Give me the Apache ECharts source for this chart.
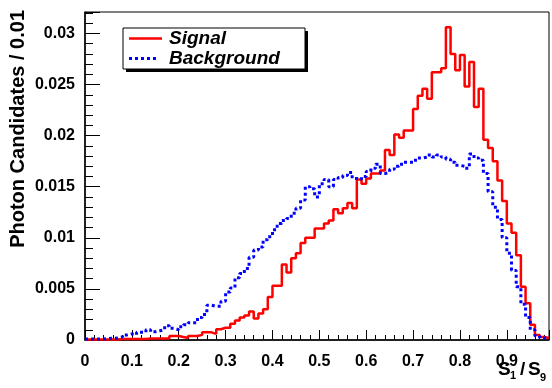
<html>
<head>
    <title>S1/S9 photon candidates</title>
    <style>
        * { margin: 0; padding: 0; }
        #chart-container { width: 552px; height: 388px; background: #fff; }
    </style>
</head>
<body>
<div id="chart-container"></div>
<script src="https://cdn.jsdelivr.net/npm/echarts@6/dist/echarts.min.js"></script>
<script>
    // histogram bins of width 0.01 starting at 0
    const binWidth = 0.01;
    const xMin = 0;
    const xMax = 0.99;
    const yMax = 0.0321;

    const signal = [
        0.00005, 0.00005, 0.00005, 0.00005, 0.00005, 0.00005, 0.00005, 0.0001, 0.0001, 0.0001,
        0.0001, 0.0001, 0.0001, 0.00015, 0.00015, 0.00015, 0.00015, 0.00015, 0.0004, 0.0004,
        0.0003, 0.0002, 0.0004, 0.0004, 0.0005, 0.00075, 0.00075, 0.0006, 0.00105, 0.0012,
        0.0012, 0.0016, 0.0019, 0.0022, 0.0024, 0.0028, 0.0021, 0.0026, 0.003, 0.0042,
        0.0053, 0.0053, 0.0074, 0.0066, 0.008, 0.0085, 0.0095, 0.01, 0.01, 0.0109,
        0.0109, 0.0114, 0.0117, 0.0128, 0.0124, 0.0129, 0.0134, 0.0129, 0.0157, 0.0153,
        0.0158, 0.0163, 0.0163, 0.0166, 0.0186, 0.0181, 0.0201, 0.0198, 0.0205, 0.0205,
        0.0226, 0.0239, 0.0246, 0.0236, 0.0262, 0.0262, 0.0266, 0.0306, 0.028, 0.0264,
        0.0279, 0.0248, 0.0272, 0.0228, 0.0246, 0.0196, 0.0188, 0.0175, 0.0156, 0.0136,
        0.0114, 0.0105, 0.0083, 0.0052, 0.0036, 0.0015, 0.0005, 0.0003, 0.0002
    ];

    const background = [
        0.0001, 0.0001, 0.0001, 0.0001, 0.00015, 0.00017, 0.0002, 0.0003, 0.0005, 0.0006,
        0.0005, 0.00075, 0.00075, 0.001, 0.0008, 0.0009, 0.001, 0.0014, 0.00115, 0.001,
        0.0013, 0.0015, 0.0017, 0.0017, 0.0022, 0.0025, 0.0034, 0.0033, 0.0033, 0.0038,
        0.0047, 0.0051, 0.0061, 0.0065, 0.007, 0.0081, 0.0088, 0.0091, 0.0098, 0.0101,
        0.0108, 0.0114, 0.0117, 0.0119, 0.0124, 0.0129, 0.0137, 0.015, 0.0148, 0.014,
        0.0153, 0.0157, 0.015, 0.0157, 0.0159, 0.0161, 0.0164, 0.0158, 0.0157, 0.016,
        0.0165, 0.0168, 0.0172, 0.0163, 0.0164, 0.0167, 0.017, 0.0172, 0.0174, 0.0174,
        0.0176, 0.0178, 0.0179, 0.0181, 0.0179, 0.0181, 0.0179, 0.0177, 0.0174, 0.0171,
        0.017, 0.0168, 0.0182, 0.0178, 0.0176, 0.0163, 0.0145, 0.013, 0.0118, 0.01,
        0.0085, 0.0068, 0.0052, 0.0035, 0.0022, 0.001, 0.0004, 0.0002, 0.0001
    ];

    const seriesNames = ['Signal', 'Background'];
    const seriesColors = ['#ff0000', '#0000ff'];

    // step line points: left edge of each bin, plus the right edge of the last one
    function toSteps(values) {
        const pts = values.map((v, i) => [+(xMin + i * binWidth).toFixed(2), v]);
        pts.push([+(xMin + values.length * binWidth).toFixed(2), values[values.length - 1]]);
        return pts;
    }

    const font = '"Liberation Sans", Arial, sans-serif';

    function label(text, x, y, size, italic) {
        return {
            type: 'text', x: x, y: y,
            style: {
                text: text, font: (italic ? 'italic ' : '') + 'bold ' + size + 'px ' + font, fill: '#000',
                textAlign: 'left', textVerticalAlign: 'middle', align: 'left', verticalAlign: 'middle'
            }
        };
    }

    // ROOT style legend box with a drop shadow
    const legendBox = {
        type: 'group', x: 123, y: 28,
        children: [
            { type: 'rect', shape: { x: 3, y: 3, width: 182, height: 41 }, style: { fill: '#000' } },
            { type: 'rect', shape: { x: 0, y: 0, width: 182, height: 41 }, style: { fill: '#fff', stroke: '#000', lineWidth: 1 } },
            { type: 'line', shape: { x1: 6, y1: 10.5, x2: 39, y2: 10.5 }, style: { stroke: seriesColors[0], lineWidth: 2.5 } },
            { type: 'line', shape: { x1: 6, y1: 30.5, x2: 36, y2: 30.5 }, style: { stroke: seriesColors[1], lineWidth: 3, lineDash: [3, 3] } },
            label(seriesNames[0], 46, 10.5, 19, true),
            label(seriesNames[1], 46, 30.5, 19, true)
        ]
    };

    var dom = document.getElementById('chart-container');
    var myChart = echarts.init(dom, null, { renderer: 'canvas' });

    var option = {
        animation: false,
        grid: {
            left: 85, right: 3, top: 12, bottom: 48,
            show: true, borderColor: '#000', borderWidth: 1
        },
        xAxis: {
            type: 'value',
            min: xMin, max: xMax, interval: 0.1,
            splitLine: { show: false },
            axisLine: { lineStyle: { color: '#000', width: 1.5 } },
            axisTick: { inside: true, length: 10, lineStyle: { color: '#000' } },
            minorTick: { show: true, splitNumber: 5, length: 5, lineStyle: { color: '#000' } },
            axisLabel: {
                showMaxLabel: false, margin: 8,
                fontFamily: font, fontWeight: 'bold', fontSize: 16, color: '#000',
                formatter: v => String(+v.toFixed(2))
            }
        },
        yAxis: {
            type: 'value',
            min: 0, max: yMax, interval: 0.005,
            splitLine: { show: false },
            axisLine: { show: true, lineStyle: { color: '#000', width: 1.5 } },
            axisTick: { inside: true, length: 15, lineStyle: { color: '#000' } },
            minorTick: { show: true, splitNumber: 5, length: 8, lineStyle: { color: '#000' } },
            axisLabel: {
                showMaxLabel: false, margin: 10,
                fontFamily: font, fontWeight: 'bold', fontSize: 16, color: '#000',
                formatter: v => String(+v.toFixed(3))
            }
        },
        graphic: [
            {
                type: 'text', x: 18, y: 10, rotation: Math.PI / 2,
                style: {
                    text: 'Photon Candidates / 0.01',
                    font: 'bold 20px ' + font, fill: '#000',
                    textAlign: 'right', textVerticalAlign: 'middle',
                    align: 'right', verticalAlign: 'middle'
                }
            },
            // x title S1 / S9 with subscripts
            label('S', 498, 370, 19),
            label('1', 510, 376, 11),
            label('/', 520, 370, 19),
            label('S', 528, 370, 19),
            label('9', 540, 378, 11),
            legendBox
        ],
        series: [
            {
                name: seriesNames[0],
                type: 'line',
                step: 'end',
                symbol: 'none',
                color: seriesColors[0],
                lineStyle: { color: seriesColors[0], width: 2.5 },
                data: toSteps(signal)
            },
            {
                name: seriesNames[1],
                type: 'line',
                step: 'end',
                symbol: 'none',
                color: seriesColors[1],
                lineStyle: { color: seriesColors[1], width: 3, type: [3, 3] },
                data: toSteps(background)
            }
        ]
    };

    myChart.setOption(option);
    window.addEventListener('resize', myChart.resize);
</script>
</body>
</html>
